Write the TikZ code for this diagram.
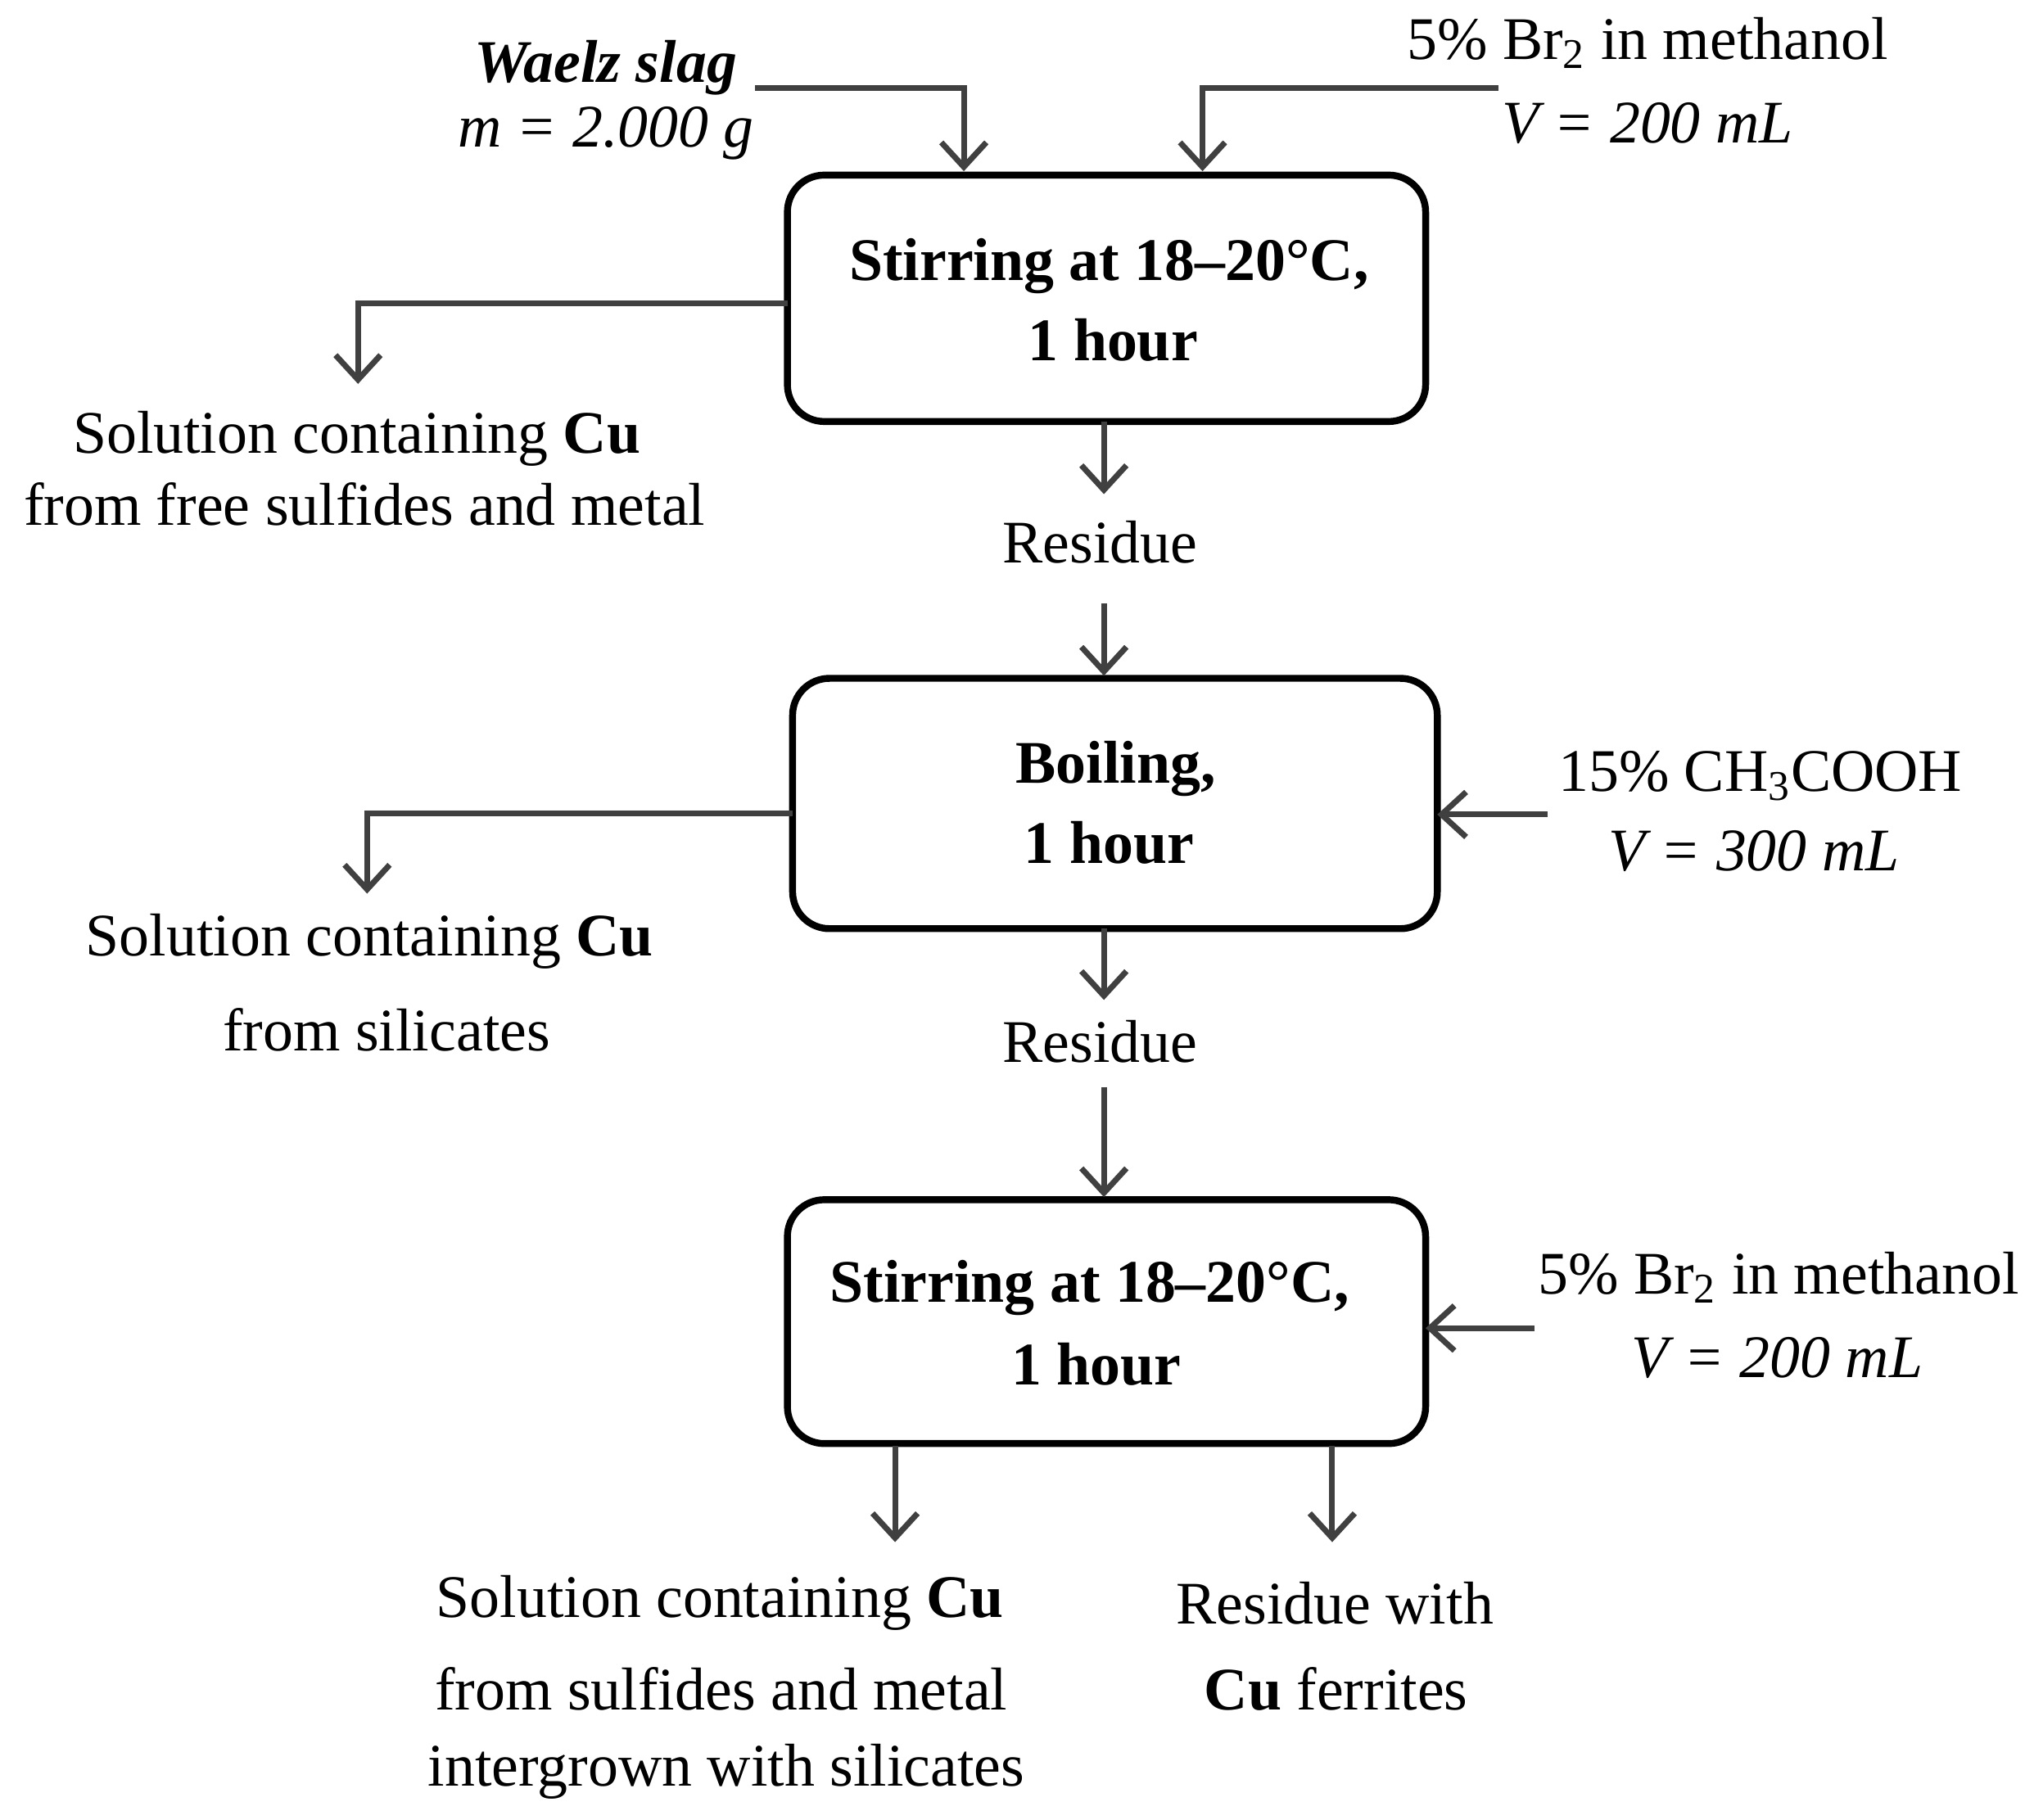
\documentclass[tikz,border=0pt]{standalone}
\usepackage{fontspec}
\setmainfont{Liberation Serif}
\usetikzlibrary{arrows.meta}
\begin{document}
\begin{tikzpicture}[x=0.01584cm,y=-0.01584cm,
  box/.style={draw=black,line width=2.4pt,rounded corners=0.45cm},
  flow/.style={draw=black!75,line width=2pt,-{Straight Barb[length=0.3cm,width=0.55cm,line width=2pt]}},
  t/.style={font=\fontsize{21}{24}\selectfont,inner sep=0pt},
  bt/.style={t,font=\fontsize{21}{24}\selectfont\bfseries}]
\useasboundingbox (0,0) rectangle (1568,1403);
% boxes
\draw[box] (607,135) rectangle (1099,325);
\draw[box] (611,523) rectangle (1108,716);
\draw[box] (607,925) rectangle (1099,1113);
\coordinate (b1w) at (607,234); \coordinate (b1s) at (851,325);
\coordinate (b2w) at (611,627); \coordinate (b2e) at (1108,628); \coordinate (b2s) at (851,716);
\coordinate (b3e) at (1099,1024);
% texts
\node[t,font=\fontsize{21}{24}\selectfont\bfseries\itshape] (w1) at (467,52) {Waelz slag};
\node[t,font=\fontsize{21}{24}\selectfont\itshape] (w2) at (467,103) {m = 2.000 g};
\node[t] (r1) at (1270,33) {5\% Br\textsubscript{2} in methanol};
\node[t,font=\fontsize{21}{24}\selectfont\itshape] (r2) at (1270,95) {V = 200 mL};
\node[bt] (s1) at (855,205) {Stirring at 18–20°C,};
\node[bt] (s2) at (858,262) {1 hour};
\node[t] (l1) at (275,338) {Solution containing \textbf{Cu}};
\node[t] (l2) at (281,389) {from free sulfides and metal};
\node[t] (res1) at (848,418) {Residue};
\node[bt] (bo1) at (860,593) {Boiling,};
\node[bt] (bo2) at (855,650) {1 hour};
\node[t] (c1) at (1357,598) {15\% CH\textsubscript{3}COOH};
\node[t,font=\fontsize{21}{24}\selectfont\itshape] (c2) at (1352,656) {V = 300 mL};
\node[t] (m1) at (285,726) {Solution containing \textbf{Cu}};
\node[t] (m2) at (298,794) {from silicates};
\node[t] (res2) at (848,803) {Residue};
\node[bt] (s3) at (840,993) {Stirring at 18–20°C,};
\node[bt] (s4) at (845,1052) {1 hour};
\node[t] (q1) at (1371,985) {5\% Br\textsubscript{2} in methanol};
\node[t,font=\fontsize{21}{24}\selectfont\itshape] (q2) at (1370,1047) {V = 200 mL};
\node[t] (o1) at (555,1236) {Solution containing \textbf{Cu}};
\node[t] (o2) at (556,1302) {from sulfides and metal};
\node[t] (o3) at (560,1366) {intergrown with silicates};
\node[t] (p1) at (1029,1236) {Residue with};
\node[t] (p2) at (1030,1302) {\textbf{Cu} ferrites};
% arrows
\draw[flow] (582,68) -| (743,132);
\draw[flow] (1155,68) -| (927,132);
\draw[flow] (b1w) -| (276,296);
\draw[flow] (b1s) -- (851,381);
\draw[flow] (851,465) -- (851,521);
\draw[flow] (b2w) -| (283,689);
\draw[flow] (1193,628) -- (b2e);
\draw[flow] (b2s) -- (851,771);
\draw[flow] (851,838) -- (851,923);
\draw[flow] (1183,1024) -- (b3e);
\draw[flow] (690,1115) -- (690,1189);
\draw[flow] (1027,1115) -- (1027,1189);
\end{tikzpicture}
\end{document}
